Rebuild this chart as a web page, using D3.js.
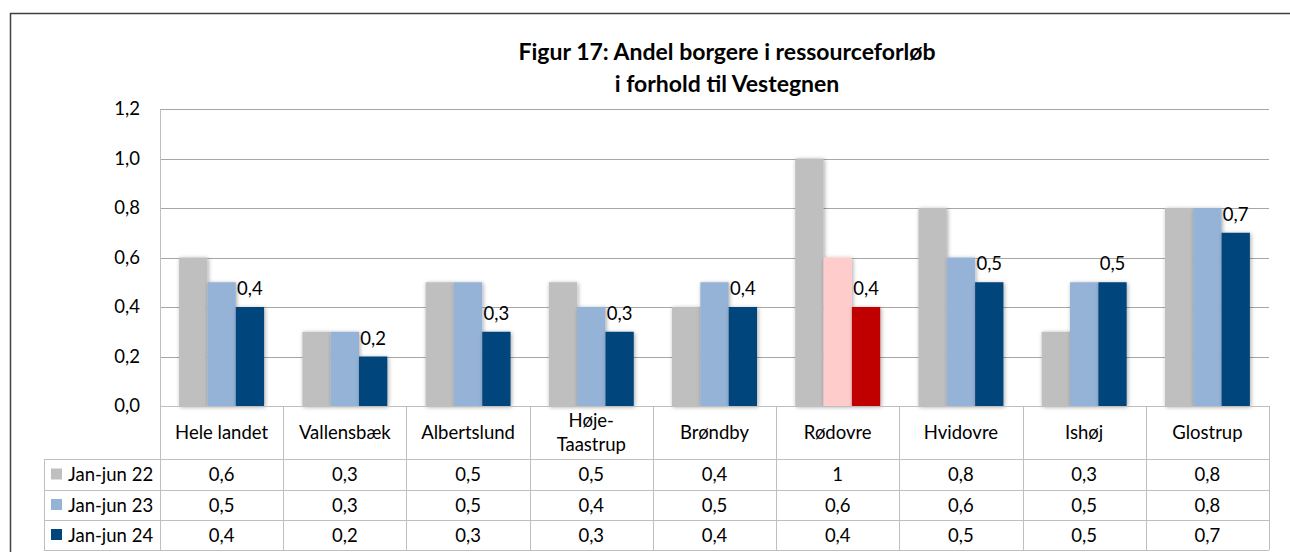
<!DOCTYPE html>
<html lang="da">
<head>
<meta charset="utf-8">
<title>Figur 17</title>
<script src="https://cdn.jsdelivr.net/npm/d3@7"></script>
<style>
  body { margin: 0; background: #fff; }
  text { font-family: Lato, "Open Sans", sans-serif; fill: #000; }
  .title { font-weight: bold; font-size: 23px; }
  .cell { font-size: 18.5px; }
</style>
</head>
<body>
<div id="chart"></div>
<script>
// data
var categories = ["Hele landet", "Vallensbæk", "Albertslund", "Høje-Taastrup", "Brøndby", "Rødovre", "Hvidovre", "Ishøj", "Glostrup"];
var seriesNames = ["Jan-jun 22", "Jan-jun 23", "Jan-jun 24"];
var jan22 = [0.6, 0.3, 0.5, 0.5, 0.4, 1, 0.8, 0.3, 0.8];
var jan23 = [0.5, 0.3, 0.5, 0.4, 0.5, 0.6, 0.6, 0.5, 0.8];
var jan24 = [0.4, 0.2, 0.3, 0.3, 0.4, 0.4, 0.5, 0.5, 0.7];
var yTicks = [0, 0.2, 0.4, 0.6, 0.8, 1.0, 1.2];
var seriesColors = ["#bfbfbf", "#95b3d7", "#00457c"];
var highlightCategory = "Rødovre";
var highlightColors = ["#bfbfbf", "#ffcccc", "#c00000"];

var values = [jan22, jan23, jan24];

var W = 1290, H = 552;
var plotLeft = 160, plotRight = 1269, plotTop = 109, base = 406;
var rowLines = [459, 490, 520, 550];
var tableLeft = 44;

var svg = d3.select("#chart").append("svg")
    .attr("width", W).attr("height", H);

var defs = svg.append("defs");
var f = defs.append("filter").attr("id", "shadow")
    .attr("x", "-30%").attr("y", "-10%").attr("width", "160%").attr("height", "120%");
f.append("feDropShadow").attr("dx", 1).attr("dy", 1).attr("stdDeviation", 2)
    .attr("flood-color", "#000").attr("flood-opacity", 0.35);

// outer chart border
svg.append("rect")
    .attr("x", 10.5).attr("y", 13.5).attr("width", 1290).attr("height", 600)
    .attr("fill", "none").attr("stroke", "#404040").attr("stroke-width", 1.5);

// title
var title = svg.append("text").attr("class", "title").attr("text-anchor", "middle");
title.append("tspan").attr("x", 727).attr("y", 60).text("Figur 17: Andel borgere i ressourceforløb");
title.append("tspan").attr("x", 727).attr("y", 92).text("i forhold til Vestegnen");

var x = d3.scaleBand().domain(categories).range([plotLeft, plotRight]).padding(0);
var xs = d3.scaleBand().domain(seriesNames).range([0, x.bandwidth()])
    .paddingInner(0).paddingOuter(0.675);
var y = d3.scaleLinear().domain([0, 1.2]).range([base, plotTop]);

function comma(v) { return String(v).replace(".", ","); }

// gridlines
svg.append("g").selectAll("line").data(yTicks.filter(function(d) { return d > 0; }))
  .join("line")
    .attr("x1", plotLeft).attr("x2", plotRight)
    .attr("y1", function(d) { return Math.round(y(d)) + 0.5; })
    .attr("y2", function(d) { return Math.round(y(d)) + 0.5; })
    .attr("stroke", "#a6a6a6").attr("stroke-width", 1);

// y axis
var yAxis = svg.append("g")
    .attr("transform", "translate(" + plotLeft + ",0)")
    .call(d3.axisLeft(y).tickValues(yTicks).tickSize(0).tickPadding(20)
      .tickFormat(function(d) { return d.toFixed(1).replace(".", ","); }));
yAxis.select(".domain").attr("stroke", "#bfbfbf");
yAxis.selectAll("text").attr("font-size", 18.5).attr("font-family", "Lato, sans-serif");

// bars
var groups = svg.append("g").selectAll("g").data(categories).join("g")
    .attr("transform", function(d) { return "translate(" + x(d) + ",0)"; });

groups.selectAll("rect")
  .data(function(c, i) {
    return seriesNames.map(function(s, j) { return {cat: c, s: s, j: j, v: values[j][i]}; });
  })
  .join("rect")
    .attr("x", function(d) { return xs(d.s); })
    .attr("width", xs.bandwidth())
    .attr("y", function(d) { return y(d.v); })
    .attr("height", function(d) { return base - y(d.v); })
    .attr("fill", function(d) { return d.cat === highlightCategory ? highlightColors[d.j] : seriesColors[d.j]; })
    .attr("filter", "url(#shadow)");

// data labels on last series
groups.append("text")
    .attr("class", "cell")
    .attr("text-anchor", "middle")
    .attr("x", xs(seriesNames[2]) + xs.bandwidth() / 2)
    .attr("y", function(c, i) { return y(jan24[i]) - 12; })
    .text(function(c, i) { return comma(jan24[i]); });

// data table
var grid = svg.append("g").attr("stroke", "#bfbfbf").attr("stroke-width", 1);
grid.append("line").attr("x1", plotLeft).attr("x2", plotRight).attr("y1", base + 0.5).attr("y2", base + 0.5);
rowLines.forEach(function(ry) {
  grid.append("line").attr("x1", tableLeft).attr("x2", plotRight).attr("y1", ry + 0.5).attr("y2", ry + 0.5);
});
grid.append("line").attr("x1", tableLeft + 0.5).attr("x2", tableLeft + 0.5).attr("y1", rowLines[0]).attr("y2", rowLines[3]);
x.domain().forEach(function(c) {
  var xx = Math.round(x(c)) + 0.5;
  grid.append("line").attr("x1", xx).attr("x2", xx).attr("y1", base).attr("y2", rowLines[3]);
});
grid.append("line").attr("x1", plotRight + 0.5).attr("x2", plotRight + 0.5).attr("y1", base).attr("y2", rowLines[3]);

// category header
var hdr = svg.append("g").selectAll("text").data(categories).join("text")
    .attr("class", "cell").attr("text-anchor", "middle")
    .attr("x", function(d) { return x(d) + x.bandwidth() / 2; });
hdr.each(function(d) {
  var t = d3.select(this);
  var cx = x(d) + x.bandwidth() / 2;
  if (d.indexOf("-") > 0) {
    var parts = [d.slice(0, d.indexOf("-") + 1), d.slice(d.indexOf("-") + 1)];
    t.append("tspan").attr("x", cx).attr("y", 427).text(parts[0]);
    t.append("tspan").attr("x", cx).attr("y", 451).text(parts[1]);
  } else {
    t.attr("y", 439).text(d);
  }
});

// value rows
var rowMid = [474.5, 505, 535];
seriesNames.forEach(function(s, j) {
  var ry = rowMid[j] + 6.5;
  svg.append("rect")
      .attr("x", 51).attr("y", rowMid[j] - 6).attr("width", 11).attr("height", 11)
      .attr("fill", seriesColors[j]);
  svg.append("text").attr("class", "cell")
      .attr("x", 68).attr("y", ry).text(s);
  svg.append("g").selectAll("text").data(categories).join("text")
      .attr("class", "cell").attr("text-anchor", "middle")
      .attr("x", function(c) { return x(c) + x.bandwidth() / 2; })
      .attr("y", ry)
      .text(function(c, i) { return comma(values[j][i]); });
});
</script>
</body>
</html>
